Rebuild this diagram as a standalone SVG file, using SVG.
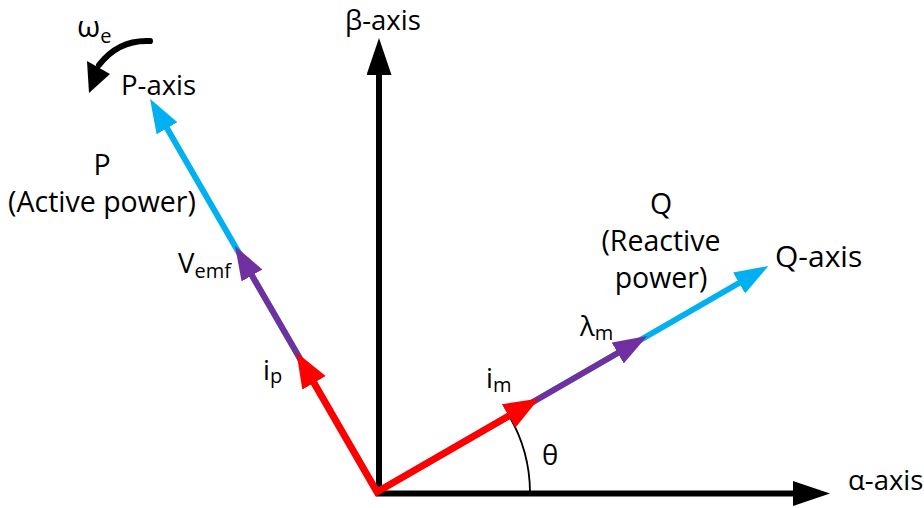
<svg xmlns="http://www.w3.org/2000/svg" width="924" height="508" viewBox="0 0 924 508">
  <style>
    text { font-family: "Open Sans", "Liberation Sans", sans-serif; fill: #000; font-size: 27.5px; }
    .sub { font-size: 20px; }
    .big { font-size: 28.5px; }
    .ax { stroke: #000; stroke-width: 6; fill: none; }
    .cy { stroke: #00B0F0; stroke-width: 6; fill: none; }
    .pu { stroke: #7030A0; stroke-width: 6; fill: none; }
    .rd { stroke: #FF0000; stroke-width: 7; fill: none; stroke-linejoin: miter; stroke-miterlimit: 10; }
  </style>
  <defs>
    <marker id="ahBlack" markerUnits="userSpaceOnUse" markerWidth="40" markerHeight="26" refX="4" refY="12.5" orient="auto">
      <path d="M0,0 L37,12.5 L0,25 z" fill="#000"/>
    </marker>
    <marker id="ahCyan" markerUnits="userSpaceOnUse" markerWidth="36" markerHeight="26" refX="4" refY="12" orient="auto">
      <path d="M0,0 L34,12 L0,24 z" fill="#00B0F0"/>
    </marker>
    <marker id="ahPurple" markerUnits="userSpaceOnUse" markerWidth="36" markerHeight="26" refX="4" refY="12" orient="auto">
      <path d="M0,0 L34,12 L0,24 z" fill="#7030A0"/>
    </marker>
    <marker id="ahRed" markerUnits="userSpaceOnUse" markerWidth="38" markerHeight="28" refX="4" refY="13.5" orient="auto-start-reverse">
      <path d="M0,0 L35,13.5 L0,27 z" fill="#FF0000"/>
    </marker>
  </defs>

  <g id="connectors">
    <line id="beta-axis-line" class="ax" x1="379" y1="496" x2="379" y2="71" marker-end="url(#ahBlack)"/>
    <line id="alpha-axis-line" class="ax" x1="376" y1="493.5" x2="797" y2="493.5" marker-end="url(#ahBlack)"/>
    <path id="theta-arc" d="M509.5,416.5 A153,153 0 0 1 530,492" fill="none" stroke="#000" stroke-width="1.8"/>
    <line class="cy" x1="377" y1="492" x2="165" y2="124.8" marker-end="url(#ahCyan)"/>
    <line class="pu" x1="377" y1="492" x2="250" y2="272" marker-end="url(#ahPurple)"/>
    <line class="cy" x1="377" y1="492" x2="742.5" y2="281" marker-end="url(#ahCyan)"/>
    <line class="pu" x1="377" y1="492" x2="621.2" y2="351" marker-end="url(#ahPurple)"/>
    <polyline class="rd" points="312,379.4 377,492 512.1,414" marker-start="url(#ahRed)" marker-end="url(#ahRed)"/>
    <path id="omega-arrow" d="M150,41 C130,40 112,48 99,65" fill="none" stroke="#000" stroke-width="6" stroke-linecap="round"/>
    <polygon points="87,61 110,74 89,93" fill="#000"/>
  </g>

  <g id="label-beta"><text x="345" y="30">β-axis</text></g>
  <g id="label-alpha"><text x="848" y="490">α-axis</text></g>
  <g id="label-omega"><text x="77" y="37" style="font-size:30px">ω<tspan class="sub" dy="6">e</tspan></text></g>
  <g id="label-paxis"><text x="121" y="95">P-axis</text></g>
  <g id="label-p">
    <text class="big" x="102" y="175" text-anchor="middle">P</text>
    <text class="big" x="102" y="212" text-anchor="middle">(Active power)</text>
  </g>
  <g id="label-vemf"><text x="178" y="273">V<tspan class="sub" dy="5">emf</tspan></text></g>
  <g id="label-ip"><text x="263" y="380">i<tspan class="sub" dy="3">p</tspan></text></g>
  <g id="label-im"><text x="486" y="388">i<tspan class="sub" dy="4">m</tspan></text></g>
  <g id="label-lambda"><text x="580" y="336">λ<tspan class="sub" dy="4">m</tspan></text></g>
  <g id="label-theta"><text x="542" y="465">θ</text></g>
  <g id="label-q">
    <text x="661" y="214" style="font-size:28.5px" text-anchor="middle">Q</text>
    <text x="661" y="251" style="font-size:28.5px" text-anchor="middle">(Reactive</text>
    <text x="661" y="288" style="font-size:28.5px" text-anchor="middle">power)</text>
  </g>
  <g id="label-qaxis"><text x="775" y="267" style="font-size:30px">Q-axis</text></g>
</svg>
